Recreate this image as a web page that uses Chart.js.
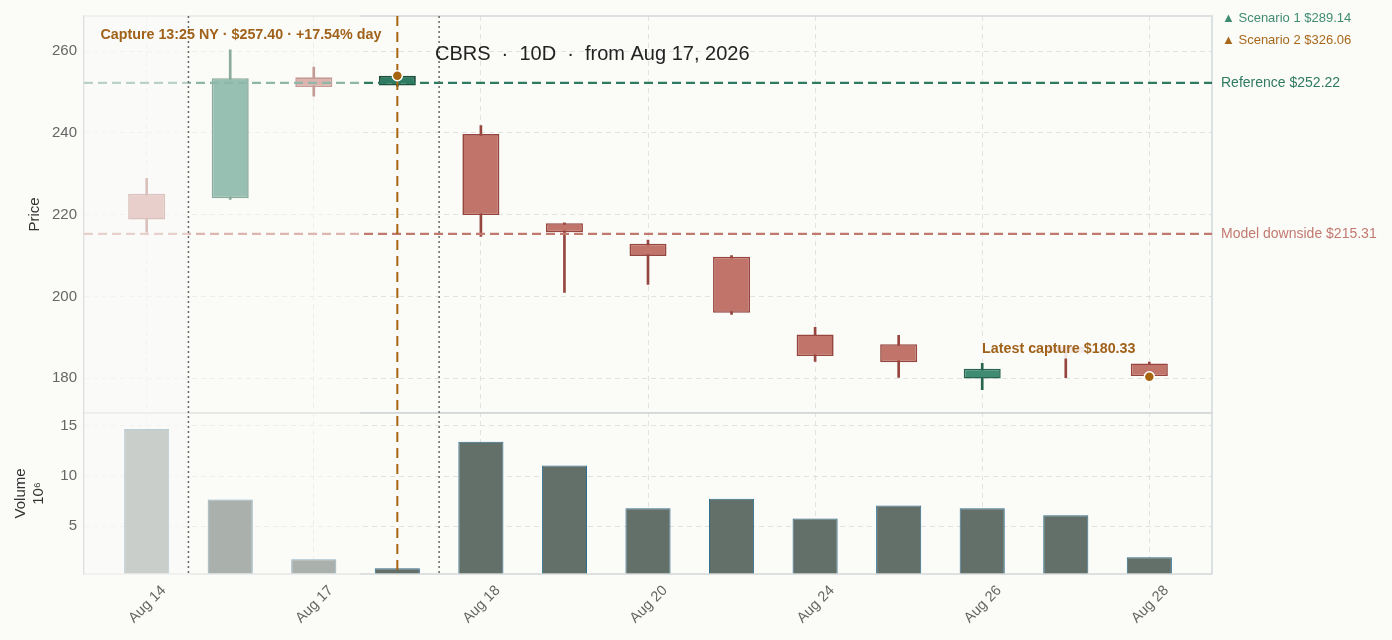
<!DOCTYPE html>
<html>
<head>
<meta charset="utf-8">
<script src="https://cdn.jsdelivr.net/npm/chart.js@4.4.1/dist/chart.umd.min.js"></script>
<style>
  html, body { margin: 0; background: #fbfbf8; }
  #wrap { width: 1392px; height: 640px; }
</style>
</head>
<body>
<div id="wrap"><canvas id="myChart"></canvas></div>
<script>
// sessions (every other one gets a tick label)
const dates = ['Aug 14', 'Aug 15', 'Aug 17', 'Aug 17 13:25', 'Aug 18', 'Aug 19', 'Aug 20',
               'Aug 21', 'Aug 24', 'Aug 25', 'Aug 26', 'Aug 27', 'Aug 28'];
const opens  = [225.1, 224.0, 253.6, 251.6, 239.7, 217.9, 212.9, 209.7, 190.7, 188.3, 179.9, 187.6, 183.6];
const closes = [218.8, 253.4, 251.2, 254.0, 219.9, 215.7, 209.9, 196.0, 185.4, 183.9, 182.3, 186.2, 180.5];
const highs  = [228.9, 260.3, 256.1, 254.3, 241.8, 218.0, 213.8, 210.0, 192.4, 190.5, 183.6, 187.9, 183.9];
const lows   = [215.7, 223.7, 249.0, 251.4, 214.7, 201.0, 202.9, 195.6, 184.1, 180.2, 177.2, 180.1, 180.3];
const volumes = [14.7, 7.68, 1.73, 0.83, 13.43, 11.05, 6.79, 7.75, 5.79, 7.08, 6.79, 6.09, 1.92]; // millions

const tickIdx = [0, 2, 4, 6, 8, 10, 12];
const priceTicks = [180, 200, 220, 240, 260];
const volumeTicks = [5, 10, 15];

const captureIdx = [3, 12];
const capturePrices = [254.0, 180.33];

const referencePrice = 252.22;
const downsidePrice = 215.31;
const scenarios = ['Scenario 1 $289.14', 'Scenario 2 $326.06'];

const RED = '#c0746a', RED_EDGE = '#96463e';
const GREEN = '#3f8c73', GREEN_EDGE = '#27654f';
const ORANGE = '#a8650f';
const BG = '#fbfbf8';

Chart.defaults.font.family = "'Liberation Sans', Arial, sans-serif";

const up = i => closes[i] >= opens[i];

const extras = {
  id: 'extras',
  beforeDraw(chart) {
    const ctx = chart.ctx;
    ctx.save();
    ctx.fillStyle = BG;
    ctx.fillRect(0, 0, chart.width, chart.height);
    ctx.restore();
  },
  afterDatasetsDraw(chart) {
    const { ctx, chartArea: a, scales } = chart;
    const x = scales.x, y = scales.y, yv = scales.yv;
    ctx.save();

    // panel frames
    ctx.strokeStyle = '#d3d8d8';
    ctx.lineWidth = 1.5;
    ctx.strokeRect(a.left, y.top, a.right - a.left, y.bottom - y.top);
    ctx.strokeRect(a.left, yv.top, a.right - a.left, yv.bottom - yv.top);

    // reference lines
    const hline = (v, color) => {
      const py = y.getPixelForValue(v);
      ctx.beginPath();
      ctx.setLineDash([9, 5]);
      ctx.strokeStyle = color;
      ctx.lineWidth = 2.2;
      ctx.moveTo(a.left, py);
      ctx.lineTo(a.right, py);
      ctx.stroke();
    };
    hline(referencePrice, '#2f7a62');
    hline(downsidePrice, '#c27a70');
    ctx.setLineDash([]);

    // faded history
    ctx.fillStyle = 'rgba(251,251,248,0.47)';
    ctx.fillRect(a.left, a.top - 1, x.getPixelForValue(2.55) - a.left, a.bottom - a.top + 2);
    ctx.fillStyle = 'rgba(251,251,248,0.4)';
    ctx.fillRect(a.left, a.top - 1, x.getPixelForValue(0.5) - a.left, a.bottom - a.top + 2);

    // session separators
    ctx.strokeStyle = '#666';
    ctx.lineWidth = 1.5;
    ctx.setLineDash([2, 3]);
    [0.5, 3.5].forEach(v => {
      const px = x.getPixelForValue(v);
      ctx.beginPath();
      ctx.moveTo(px, a.top);
      ctx.lineTo(px, a.bottom);
      ctx.stroke();
    });

    // capture marker
    const cx = x.getPixelForValue(captureIdx[0]);
    ctx.strokeStyle = ORANGE;
    ctx.lineWidth = 2;
    ctx.setLineDash([10, 6]);
    ctx.beginPath();
    ctx.moveTo(cx, a.top);
    ctx.lineTo(cx, a.bottom);
    ctx.stroke();
    ctx.setLineDash([]);

    // dots
    captureIdx.forEach((idx, k) => {
      ctx.beginPath();
      ctx.arc(x.getPixelForValue(idx), y.getPixelForValue(capturePrices[k]), 5, 0, Math.PI * 2);
      ctx.fillStyle = ORANGE;
      ctx.fill();
      ctx.lineWidth = 1.5;
      ctx.strokeStyle = '#ffffff';
      ctx.stroke();
    });

    // texts
    ctx.textBaseline = 'middle';
    ctx.font = "bold 14.3px 'Liberation Sans', Arial, sans-serif";
    ctx.fillStyle = '#a0621a';
    ctx.textAlign = 'right';
    ctx.fillText('Capture 13:25 NY · $257.40 · +17.54% day', cx - 16, 35);

    ctx.font = "bold 14.3px 'Liberation Sans', Arial, sans-serif";
    const lx = x.getPixelForValue(11) - 7;
    const ly = y.getPixelForValue(187.0);
    const label = 'Latest capture $180.33';
    const w = ctx.measureText(label).width;
    ctx.fillStyle = 'rgba(251,251,248,0.88)';
    ctx.fillRect(lx - w / 2 - 4, ly - 9, w + 8, 18);
    ctx.fillStyle = '#a0621a';
    ctx.textAlign = 'center';
    ctx.fillText(label, lx, ly);

    ctx.font = "20px 'Liberation Sans', Arial, sans-serif";
    ctx.fillStyle = '#222';
    ctx.textAlign = 'left';
    ctx.fillText('CBRS  \u00b7  10D  \u00b7  from Aug 17, 2026', x.getPixelForValue(3.45), 54);

    const rx = a.right + 9;
    ctx.font = "14px 'Liberation Sans', Arial, sans-serif";
    ctx.fillStyle = '#2f7a62';
    ctx.fillText('Reference $' + referencePrice.toFixed(2), rx, y.getPixelForValue(referencePrice));
    ctx.fillStyle = '#c27a70';
    ctx.fillText('Model downside $' + downsidePrice.toFixed(2), rx, y.getPixelForValue(downsidePrice));

    ctx.font = "13px 'Liberation Sans', Arial, sans-serif";
    ctx.fillStyle = '#3f8c73';
    ctx.fillText('\u25b2 ' + scenarios[0], rx + 1, 18);
    ctx.fillStyle = '#a8681c';
    ctx.fillText('\u25b2 ' + scenarios[1], rx + 1, 40);
    ctx.restore();
  }
};

const gridStyle = { color: '#e2e2e2', drawTicks: false };

const config = {
  data: {
    datasets: [
      {
        type: 'bar',
        label: 'body',
        yAxisID: 'y',
        order: 1,
        grouped: false,
        data: dates.map((d, i) => ({ x: i, y: [opens[i], closes[i]] })),
        backgroundColor: c => c.dataIndex === captureIdx[0] ? '#2e7c62' : (up(c.dataIndex) ? GREEN : RED),
        borderColor: c => c.dataIndex === captureIdx[0] ? '#1d523f' : (up(c.dataIndex) ? GREEN_EDGE : RED_EDGE),
        borderWidth: c => c.dataIndex === captureIdx[0] ? 2 : 1.6,
        borderSkipped: false,
        categoryPercentage: 1,
        barPercentage: 0.443
      },
      {
        type: 'bar',
        label: 'wick',
        yAxisID: 'y',
        order: 2,
        grouped: false,
        data: dates.map((d, i) => ({ x: i, y: [lows[i], highs[i]] })),
        backgroundColor: c => up(c.dataIndex) ? GREEN_EDGE : RED_EDGE,
        borderWidth: 0,
        barThickness: 2
      },
      {
        type: 'bar',
        label: 'Volume',
        yAxisID: 'yv',
        order: 3,
        grouped: false,
        data: dates.map((d, i) => ({ x: i, y: volumes[i] })),
        backgroundColor: '#627069',
        borderColor: '#2e6e90',
        borderWidth: 1,
        categoryPercentage: 1,
        barPercentage: 0.54
      }
    ]
  },
  options: {
    responsive: true,
    maintainAspectRatio: false,
    animation: false,
    layout: { padding: { top: 13, right: 180, left: 0, bottom: 0 } },
    plugins: { legend: { display: false }, tooltip: { enabled: false } },
    scales: {
      x: {
        type: 'linear',
        offset: false,
        min: -0.75,
        max: 12.75,
        afterBuildTicks: s => { s.ticks = tickIdx.map(v => ({ value: v })); },
        ticks: {
          callback: v => dates[v],
          minRotation: 45, maxRotation: 45, autoSkip: false,
          labelOffset: 17,
          font: { size: 14.5 }, color: '#666', padding: 8
        },
        grid: { color: '#e2e2e2', drawTicks: false, offset: false },
        border: { display: false, dash: [5, 4] },
        afterFit: s => { s.height = 66; }
      },
      yv: {
        type: 'linear',
        position: 'left',
        stack: 'panes',
        stackWeight: 1,
        min: 0.25,
        max: 16.3,
        afterBuildTicks: s => { s.ticks = volumeTicks.map(v => ({ value: v })); },
        ticks: { font: { size: 15 }, color: '#666', padding: 7 },
        grid: gridStyle,
        border: { display: false, dash: [5, 4] },
        title: { display: true, text: ['Volume', '10\u2076'], font: { size: 15 }, color: '#333', padding: { top: 12, bottom: 0 } },
        afterFit: s => { s.width = 84; }
      },
      y: {
        type: 'linear',
        position: 'left',
        stack: 'panes',
        stackWeight: 2.463,
        min: 171.5,
        max: 268.6,
        afterBuildTicks: s => { s.ticks = priceTicks.map(v => ({ value: v })); },
        ticks: { font: { size: 15 }, color: '#666', padding: 7 },
        grid: gridStyle,
        border: { display: false, dash: [5, 4] },
        title: { display: true, text: 'Price', font: { size: 15 }, color: '#333', padding: { top: 26, bottom: 0 } },
        afterFit: s => { s.width = 84; }
      }
    }
  },
  plugins: [extras]
};

new Chart(document.getElementById('myChart'), config);
</script>
</body>
</html>
